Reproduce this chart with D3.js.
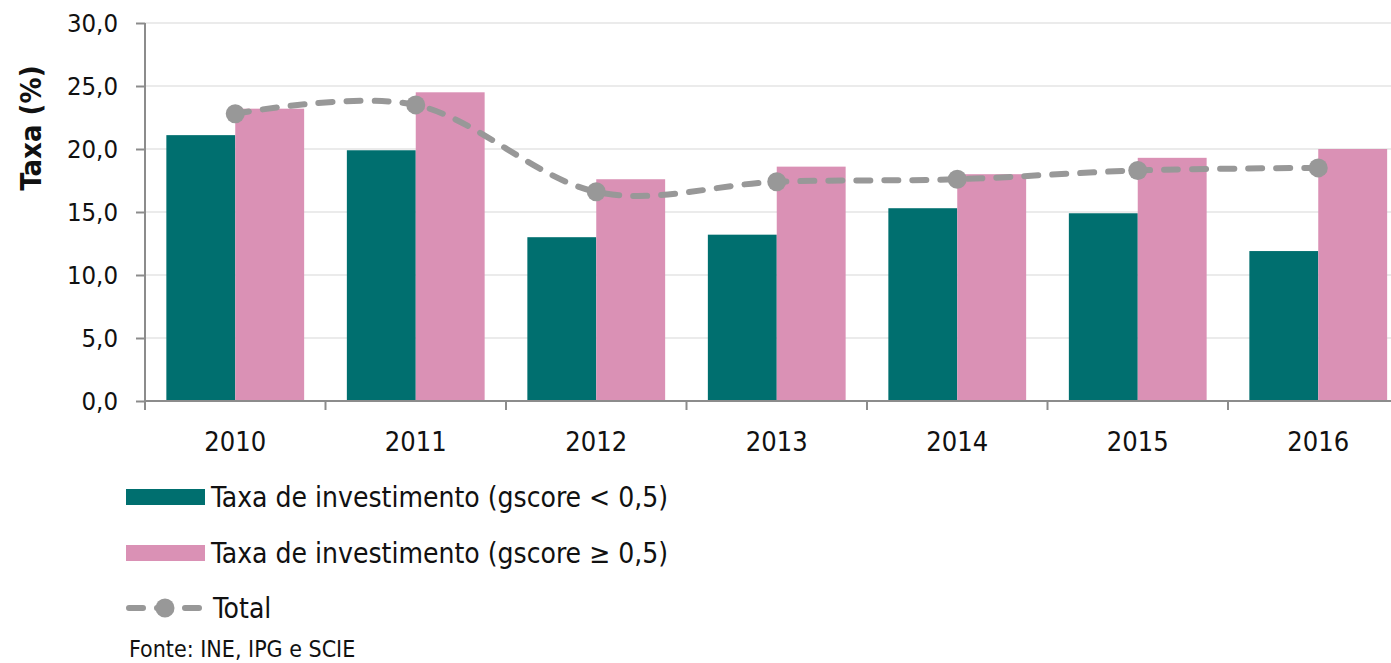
<!DOCTYPE html>
<html>
<head>
<meta charset="utf-8">
<script src="https://cdn.jsdelivr.net/npm/d3@7"></script>
<style>
  body { margin: 0; background: #fff; }
  svg { display: block; }
</style>
</head>
<body>
<div id="chart"></div>
<script>
const anos = ["2010", "2011", "2012", "2013", "2014", "2015", "2016"];
const taxaBaixa = [21.1, 19.9, 13.0, 13.2, 15.3, 14.9, 11.9];   // gscore < 0,5
const taxaAlta = [23.2, 24.5, 17.6, 18.6, 18.0, 19.3, 20.0];    // gscore >= 0,5
const total = [22.8, 23.5, 16.6, 17.4, 17.6, 18.3, 18.5];
const yTicks = [0, 5, 10, 15, 20, 25, 30];

const W = 1391, H = 663;
const fonte = "'DejaVu Sans Condensed', 'DejaVu Sans', sans-serif";
const corBaixa = "#006f6f", corAlta = "#da91b5", corTotal = "#989898";
const corEixo = "#8c8c8c", corGrelha = "#ebebeb";

const svg = d3.select("#chart").append("svg")
  .attr("width", W)
  .attr("height", H);

const x = d3.scaleBand()
  .domain(anos)
  .range([145, 145 + 7 * 180.5]);

const xSub = d3.scaleBand()
  .domain(["baixa", "alta"])
  .range([0, x.bandwidth()])
  .paddingOuter(0.31);

const y = d3.scaleLinear()
  .domain([0, 30])
  .range([401, 23]);

// grelha
svg.append("g")
  .selectAll("line")
  .data(yTicks.filter(d => d > 0))
  .enter().append("line")
  .attr("x1", 145)
  .attr("x2", W)
  .attr("y1", d => y(d))
  .attr("y2", d => y(d))
  .attr("stroke", corGrelha)
  .attr("stroke-width", 2);

// barras
const grupos = svg.append("g")
  .selectAll("g")
  .data(anos)
  .enter().append("g")
  .attr("transform", d => "translate(" + x(d) + ",0)");

grupos.append("rect")
  .attr("x", xSub("baixa"))
  .attr("width", xSub.bandwidth())
  .attr("y", (d, i) => y(taxaBaixa[i]))
  .attr("height", (d, i) => y(0) - y(taxaBaixa[i]))
  .attr("fill", corBaixa);

grupos.append("rect")
  .attr("x", xSub("alta"))
  .attr("width", xSub.bandwidth())
  .attr("y", (d, i) => y(taxaAlta[i]))
  .attr("height", (d, i) => y(0) - y(taxaAlta[i]))
  .attr("fill", corAlta);

// eixo Y
const eixoY = svg.append("g")
  .attr("transform", "translate(145,0)")
  .call(d3.axisLeft(y).tickValues(yTicks).tickSize(9).tickPadding(18)
    .tickFormat(d => d3.format(".1f")(d).replace(".", ",")));
eixoY.select(".domain").attr("stroke", corEixo).attr("stroke-width", 2)
  .attr("d", "M0," + y(0) + "V" + y(30));
eixoY.selectAll(".tick line").attr("stroke", corEixo).attr("stroke-width", 2);
eixoY.selectAll(".tick text")
  .attr("font-family", fonte).attr("font-size", 25.5).attr("fill", "#111");

// eixo X
const eixoX = svg.append("g")
  .attr("transform", "translate(0," + y(0) + ")");
eixoX.append("line")
  .attr("x1", 145).attr("x2", W)
  .attr("stroke", corEixo).attr("stroke-width", 2);
eixoX.selectAll(".marca")
  .data(anos)
  .enter().append("line")
  .attr("class", "marca")
  .attr("x1", d => x(d)).attr("x2", d => x(d))
  .attr("y1", 0).attr("y2", 9)
  .attr("stroke", corEixo).attr("stroke-width", 2);
eixoX.selectAll(".rotulo")
  .data(anos)
  .enter().append("text")
  .attr("class", "rotulo")
  .attr("x", d => x(d) + x.bandwidth() / 2)
  .attr("y", 50)
  .attr("text-anchor", "middle")
  .attr("font-family", fonte)
  .attr("font-size", 27)
  .attr("fill", "#111")
  .text(d => d);

// linha do total
const pontos = anos.map((d, i) => [x(d) + x.bandwidth() / 2, y(total[i])]);

svg.append("path")
  .datum(pontos)
  .attr("fill", "none")
  .attr("stroke", corTotal)
  .attr("stroke-width", 6)
  .attr("stroke-linecap", "round")
  .attr("stroke-dasharray", "14,14")
  .attr("d", d3.line().curve(d3.curveCardinal.tension(0)));

svg.append("g")
  .selectAll("circle")
  .data(pontos)
  .enter().append("circle")
  .attr("cx", d => d[0])
  .attr("cy", d => d[1])
  .attr("r", 9.5)
  .attr("fill", corTotal);

// título do eixo Y
svg.append("text")
  .attr("transform", "translate(41,128) rotate(-90)")
  .attr("text-anchor", "middle")
  .attr("font-family", fonte)
  .attr("font-weight", "bold")
  .attr("font-size", 29)
  .attr("fill", "#111")
  .text("Taxa (%)");

// legenda
const legX = 126;
const leg = svg.append("g");

leg.append("rect")
  .attr("x", legX).attr("y", 489).attr("width", 79).attr("height", 16)
  .attr("fill", corBaixa);
leg.append("text")
  .attr("x", 211).attr("y", 507)
  .attr("font-family", fonte).attr("font-size", 28).attr("fill", "#111")
  .text("Taxa de investimento (gscore < 0,5)");

leg.append("rect")
  .attr("x", legX).attr("y", 545).attr("width", 79).attr("height", 16)
  .attr("fill", corAlta);
leg.append("text")
  .attr("x", 211).attr("y", 563)
  .attr("font-family", fonte).attr("font-size", 28).attr("fill", "#111")
  .text("Taxa de investimento (gscore ≥ 0,5)");

leg.append("line")
  .attr("x1", 129).attr("x2", 201).attr("y1", 608).attr("y2", 608)
  .attr("stroke", corTotal).attr("stroke-width", 6)
  .attr("stroke-linecap", "round").attr("stroke-dasharray", "14,14");
leg.append("circle")
  .attr("cx", 165).attr("cy", 608).attr("r", 9.5).attr("fill", corTotal);
leg.append("text")
  .attr("x", 213).attr("y", 618)
  .attr("font-family", fonte).attr("font-size", 28).attr("fill", "#111")
  .text("Total");

svg.append("text")
  .attr("x", 129).attr("y", 657)
  .attr("font-family", fonte).attr("font-size", 23).attr("fill", "#111")
  .text("Fonte: INE, IPG e SCIE");
</script>
</body>
</html>
